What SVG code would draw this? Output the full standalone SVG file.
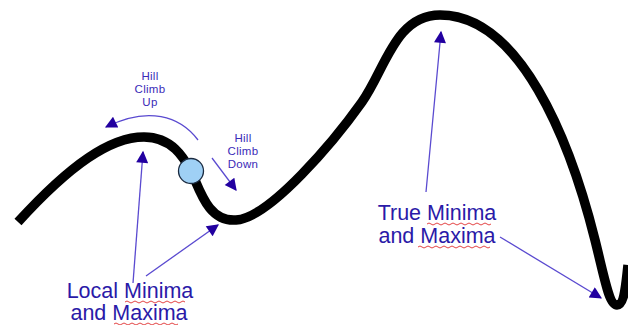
<svg xmlns="http://www.w3.org/2000/svg" width="628" height="325" viewBox="0 0 628 325">
<defs>
<style>
.curve{fill:none;stroke:#000;stroke-width:9.5;stroke-linecap:butt;stroke-linejoin:round}
.arr{fill:none;stroke:#5a4ad0;stroke-width:1.3}
.big{font-family:"Liberation Sans",Arial,sans-serif;font-size:21.5px;fill:#2a1aa8;text-anchor:middle}
.small{font-family:"Liberation Sans",Arial,sans-serif;font-size:11.5px;fill:#3a2ab8;text-anchor:middle;letter-spacing:0.3px}
.sq{fill:none;stroke:#e03030;stroke-width:0.9}
</style>
<marker id="ah" viewBox="0 0 10 10" refX="9" refY="5" markerWidth="16" markerHeight="12" markerUnits="userSpaceOnUse" orient="auto">
<path d="M0,0 L10,5 L0,10 z" fill="#2200a0"/>
</marker>
</defs>
<g id="curve">
<path class="curve" d="M18,222 C70,165 110,137 144,137 C172,137 184,158 191,171 C200,190 208,222 236,220 C270,218 335,140 362,102 C385,70 395,15 440,15 C520,15 570,140 595,240 C605,280 609,305 617,305 C624,305 626,285 628,265"/>
</g>
<g id="ball">
<circle cx="191" cy="171" r="12.5" fill="#9fd0f5" stroke="#1a2a40" stroke-width="1.3"/>
</g>
<g id="connectors">
<path class="arr" d="M133,283 L143,152" marker-end="url(#ah)"/>
<path class="arr" d="M146,276 L218,225" marker-end="url(#ah)"/>
<path class="arr" d="M198,140 C180,116 148,106 106,127" marker-end="url(#ah)"/>
<path class="arr" d="M212,158 L236,190" marker-end="url(#ah)"/>
<path class="arr" d="M426,192 L441,32" marker-end="url(#ah)"/>
<path class="arr" d="M500,237 L601,298" marker-end="url(#ah)"/>
</g>
<g id="label-hill-up">
<text class="small" x="150" y="80">Hill</text>
<text class="small" x="150" y="93">Climb</text>
<text class="small" x="150" y="106">Up</text>
</g>
<g id="label-hill-down">
<text class="small" x="243" y="142">Hill</text>
<text class="small" x="243" y="155">Climb</text>
<text class="small" x="243" y="168">Down</text>
</g>
<g id="label-local">
<text class="big" x="130" y="298">Local Minima</text>
<text class="big" x="129" y="320">and Maxima</text>
<path class="sq" d="M125,302 q2,-2 4,0 t4,0 t4,0 t4,0 t4,0 t4,0 t4,0 t4,0 t4,0 t4,0 t4,0 t4,0 t4,0 t4,0 t4,0"/>
<path class="sq" d="M114,324 q2,-2 4,0 t4,0 t4,0 t4,0 t4,0 t4,0 t4,0 t4,0 t4,0 t4,0 t4,0 t4,0 t4,0 t4,0 t4,0 t4,0"/>
</g>
<g id="label-true">
<text class="big" x="437" y="220">True Minima</text>
<text class="big" x="437" y="243">and Maxima</text>
<path class="sq" d="M427,224 q2,-2 4,0 t4,0 t4,0 t4,0 t4,0 t4,0 t4,0 t4,0 t4,0 t4,0 t4,0 t4,0 t4,0 t4,0 t4,0 t4,0"/>
<path class="sq" d="M418,247 q2,-2 4,0 t4,0 t4,0 t4,0 t4,0 t4,0 t4,0 t4,0 t4,0 t4,0 t4,0 t4,0 t4,0 t4,0 t4,0 t4,0 t4,0 t4,0"/>
</g>
</svg>
